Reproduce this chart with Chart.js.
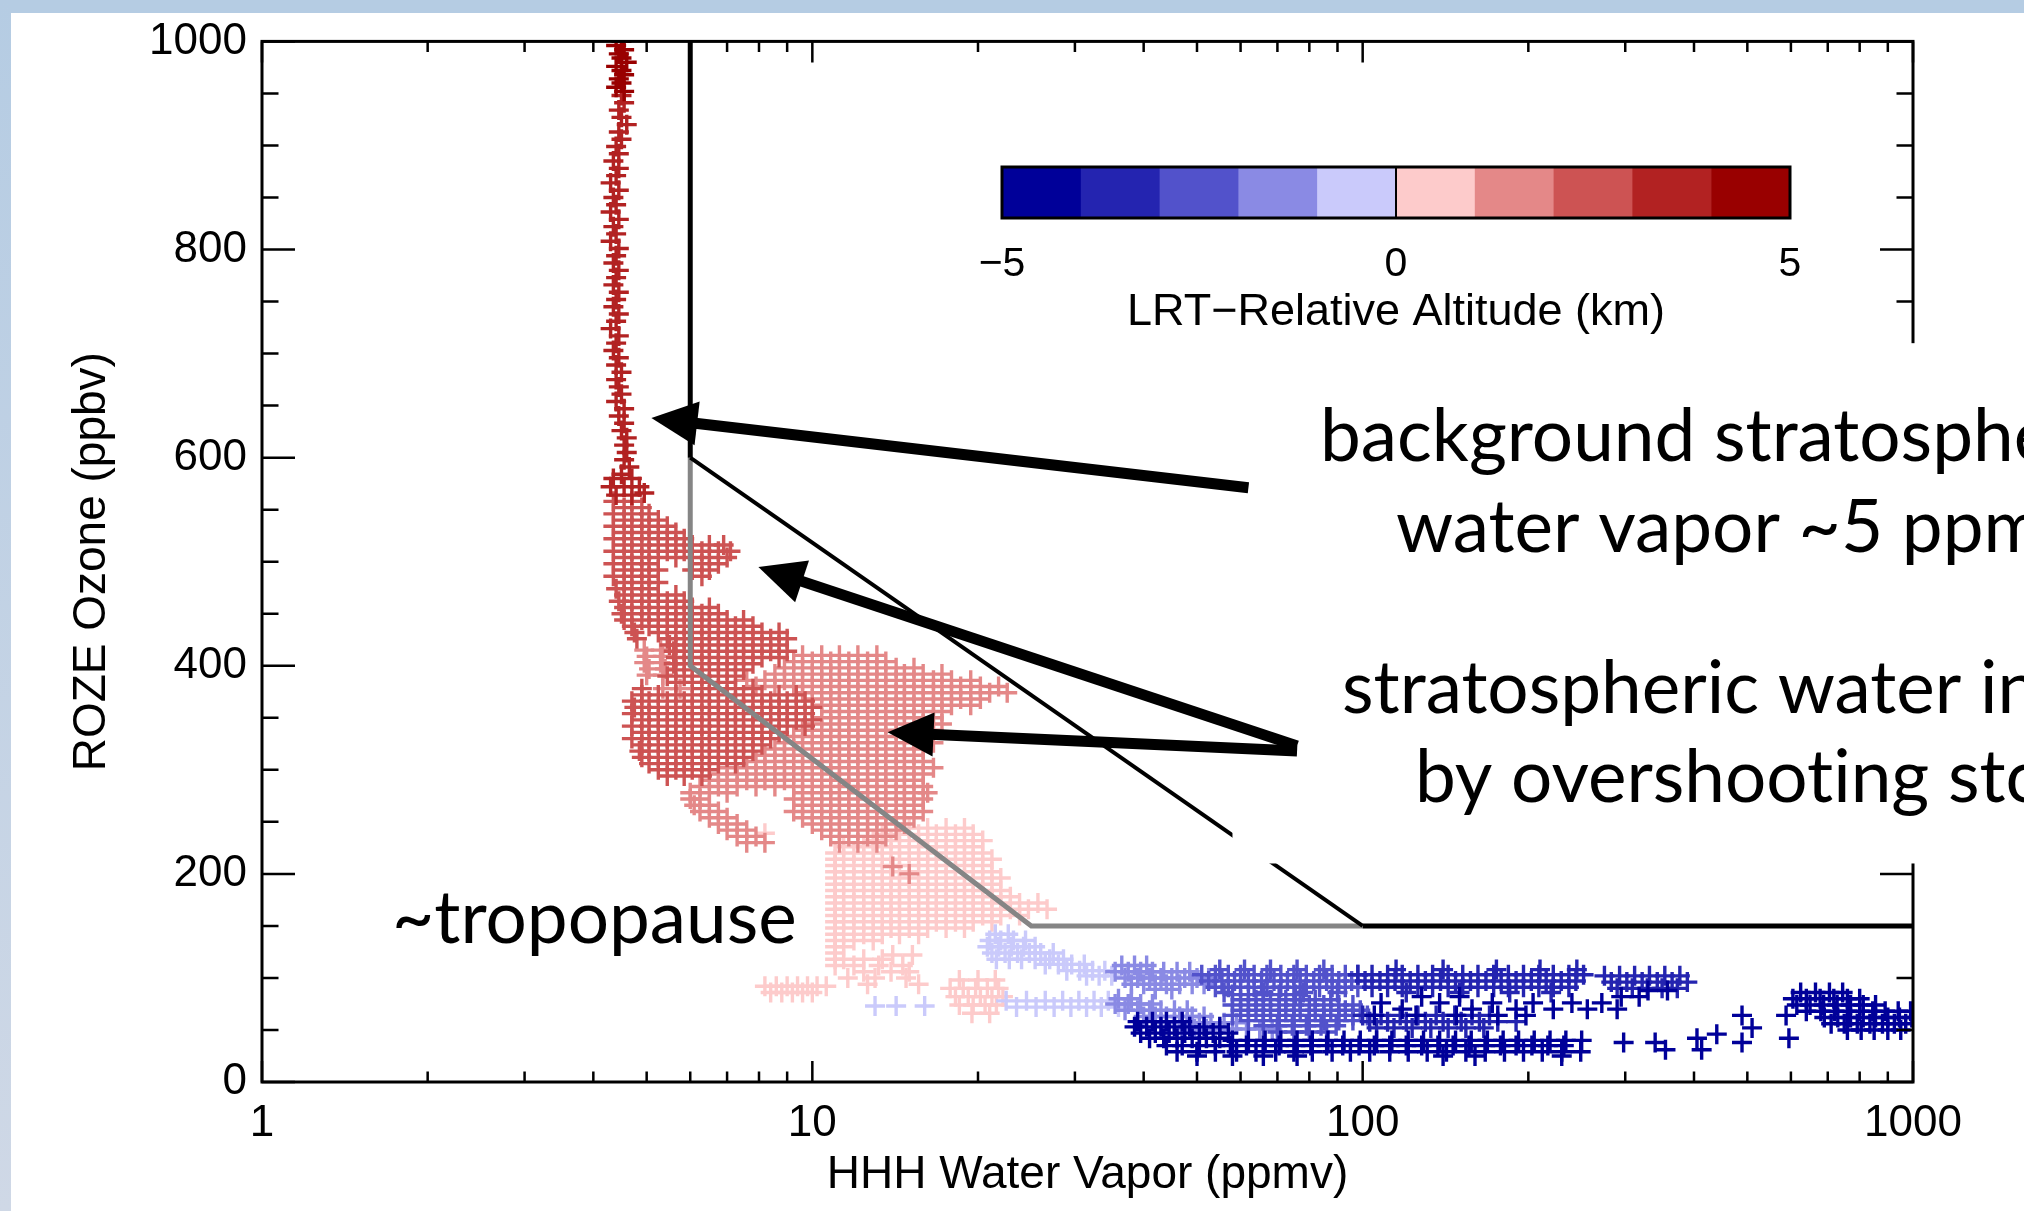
<!DOCTYPE html>
<html>
<head>
<meta charset="utf-8">
<title>Ozone vs Water Vapor</title>
<script src="https://cdn.jsdelivr.net/npm/chart.js@4.4.1/dist/chart.umd.min.js"></script>
<style>
  html, body { margin: 0; padding: 0; background: #fff; }
  body { width: 2024px; height: 1211px; position: relative; overflow: hidden; }
  #topBar { position: absolute; left: 0; top: 0; width: 2024px; height: 13px; background: #b5cce3; }
  #leftBar { position: absolute; left: 0; top: 0; width: 11px; height: 1211px; background: linear-gradient(#b5cce3, #cfd8e6); }
  #graphicFirst { position: absolute; left: 0; top: 0; }
</style>
</head>
<body>
<div id="topBar"></div>
<div id="leftBar"></div>
<canvas id="graphicFirst" width="2024" height="1211"></canvas>
<script>
// Reporte Ozone vs Water Vapor
// Librerias: Chart.js

//-----AXES
const xMajorTicks = [1, 10, 100, 1000];
const xMinorTicks = [2, 3, 4, 5, 6, 7, 8, 9, 20, 30, 40, 50, 60, 70, 80, 90, 200, 300, 400, 500, 600, 700, 800, 900];
const yMajorTicks = [0, 200, 400, 600, 800, 1000];
const yMinorTicks = [50, 100, 150, 250, 300, 350, 450, 500, 550, 650, 700, 750, 850, 900, 950];

//-----COLOR LEVELS (LRT-relative altitude, km)
const levelColors = ['#000099', '#2424b0', '#5252cb', '#8a8ae4', '#cacafb', '#fdcbcb', '#e48888', '#cd5353', '#b22222', '#990000'];
const levelTicks = [-5, 0, 5];

//-----DATA  [x, y] pairs
const points45 = [[4.5,1000],[4.4,996],[4.55,992],[4.45,988],[4.5,984],[4.6,980],[4.4,976],[4.5,972],[4.55,968],[4.45,964],[4.5,960],[4.4,956],[4.55,952]];
const points34 = [[4.5,948],[4.55,941],[4.45,934],[4.5,927],[4.6,920],[4.45,913],[4.5,906],[4.4,899],[4.45,892],[4.35,885],[4.45,878],[4.4,871],[4.3,864],[4.45,857],[4.35,850],[4.4,843],[4.3,836],[4.45,829],[4.35,822],[4.4,815],[4.3,808],[4.45,801],[4.4,794],[4.35,787],[4.45,780],[4.4,773],[4.35,766],[4.45,759],[4.4,752],[4.35,745],[4.45,738],[4.4,731],[4.3,724],[4.45,717],[4.4,710],[4.35,703],[4.45,696],[4.4,689],[4.5,682],[4.4,675],[4.45,668],[4.5,661],[4.4,654],[4.55,647],[4.45,640],[4.55,633],[4.5,626],[4.6,619],[4.55,612],[4.6,605],[4.55,598],[4.65,591],[4.5,584],[4.35,580],[4.7,580],[4.3,572],[4.55,572],[4.85,572],[4.4,564],[4.7,564],[4.95,566]];

// rows: [y, x1, x2, ...]
const rows23 = [
  [558, 4.35, 4.7], [552, 4.55, 4.9], [546, 4.35, 4.7, 5.05], [540, 4.55, 4.9, 5.25],
  [534, 4.35, 4.7, 5.05, 5.45], [528, 4.55, 4.9, 5.25, 5.65], [522, 4.35, 4.7, 5.05, 5.45, 5.85],
  [516, 4.55, 4.9, 5.25, 5.65, 6.05, 6.5, 6.9], [510, 4.35, 4.7, 5.05, 5.45, 5.85, 6.3, 6.75, 7.1],
  [504, 4.55, 4.9, 5.25, 5.65, 6.05, 6.5, 7.0], [498, 4.35, 4.7, 5.05, 6.3, 6.75], [492, 4.55, 4.9, 5.25, 6.05, 6.5],
  [486, 4.35, 4.7, 5.05, 6.3], [480, 4.55, 4.9, 5.25], [474, 4.4, 4.7, 5.05], [468, 4.55, 4.9, 5.25, 5.65],
  [462, 4.45, 4.7, 5.05, 5.45, 5.85], [456, 4.55, 4.9, 5.25, 5.65, 6.05, 6.5], [450, 4.5, 4.7, 5.05, 5.45, 5.85, 6.3, 6.75],
  [444, 4.55, 4.9, 5.25, 5.65, 6.05, 6.5, 7.0, 7.5], [438, 4.7, 5.05, 5.45, 5.85, 6.3, 6.75, 7.25, 7.8],
  [432, 4.75, 5.25, 5.65, 6.05, 6.5, 7.0, 7.5, 8.1, 8.7], [426, 4.8, 5.45, 5.85, 6.3, 6.75, 7.25, 7.8, 8.4, 9.0],
  [420, 5.5, 5.65, 6.05, 6.5, 7.0, 7.5, 8.1, 8.7], [414, 5.6, 5.85, 6.3, 6.75, 7.25, 7.8, 8.4, 9.0],
  [408, 5.65, 6.05, 6.5, 7.0, 7.5, 8.1, 8.7], [402, 5.6, 5.85, 6.3, 6.75, 7.25, 7.8], [396, 5.65, 6.05, 6.5, 7.0, 7.5],
  [390, 5.45, 5.85, 6.3, 6.75, 7.25], [384, 5.65, 6.05, 6.5, 7.0], [378, 4.9, 6.3, 6.75, 7.25, 7.8],
  [372, 4.9, 5.25, 5.65, 6.05, 6.5, 7.0, 7.5, 8.1, 8.7, 9.35], [366, 4.7, 5.05, 5.45, 5.85, 6.3, 6.75, 7.25, 7.8, 8.4, 9.0, 9.7],
  [360, 4.75, 4.9, 5.25, 5.65, 6.05, 6.5, 7.0, 7.5, 8.1, 8.7, 9.35, 10.0], [354, 4.7, 5.05, 5.45, 5.85, 6.3, 6.75, 7.25, 7.8, 8.4, 9.0, 9.7],
  [348, 4.9, 5.25, 5.65, 6.05, 6.5, 7.0, 7.5, 8.1, 8.7, 9.35, 10.0], [342, 4.7, 5.05, 5.45, 5.85, 6.3, 6.75, 7.25, 7.8, 8.4, 9.0, 9.7],
  [336, 4.9, 5.25, 5.65, 6.05, 6.5, 7.0, 7.5, 8.1, 8.7], [330, 4.7, 5.05, 5.45, 5.85, 6.3, 6.75, 7.25, 7.8, 8.4],
  [324, 4.9, 5.25, 5.65, 6.05, 6.5, 7.0, 7.5, 8.1], [318, 4.85, 5.05, 5.45, 5.85, 6.3, 6.75, 7.25, 7.8],
  [312, 4.9, 5.25, 5.65, 6.05, 6.5, 7.0, 7.5], [306, 5.05, 5.45, 5.85, 6.3, 6.75, 7.25], [300, 5.25, 5.65, 6.05, 6.5], [294, 5.45, 5.85, 6.3]
];
const rows12 = [
  [415, 4.95, 5.3], [409, 5.0, 5.35], [403, 4.95, 5.3], [397, 5.05, 5.4], [391, 5.0, 5.35], [378, 5.35, 5.75],
  [410, 9.6, 10.4, 11.2, 12.1, 13.1], [404, 9.25, 10.0, 10.8, 11.65, 12.6, 13.6],
  [398, 8.9, 9.6, 10.4, 11.2, 12.1, 13.1, 14.2, 15.3], [392, 8.55, 9.25, 10.0, 10.8, 11.65, 12.6, 13.6, 14.7, 15.9, 17.2],
  [386, 7.6, 8.2, 8.9, 9.6, 10.4, 11.2, 12.1, 13.1, 14.2, 15.3, 16.6, 17.9, 19.4],
  [380, 7.9, 8.55, 9.25, 10.0, 10.8, 11.65, 12.6, 13.6, 14.7, 15.9, 17.2, 18.6, 20.2, 21.8],
  [374, 9.6, 10.4, 11.2, 12.1, 13.1, 14.2, 15.3, 16.6, 17.9, 19.4, 21.0, 22.6],
  [368, 10.0, 10.8, 11.65, 12.6, 13.6, 14.7, 15.9, 17.2, 18.6, 20.2], [362, 10.4, 11.2, 12.1, 13.1, 14.2, 15.3, 16.6, 17.9, 19.4],
  [356, 10.8, 11.65, 12.6, 13.6, 14.7, 15.9, 17.2], [350, 10.4, 11.2, 12.1, 13.1, 14.2, 15.3, 16.6],
  [344, 10.0, 10.8, 11.65, 12.6, 13.6, 14.7, 15.9, 17.2], [338, 9.6, 10.4, 11.2, 12.1, 13.1, 14.2, 15.3, 16.6],
  [332, 9.25, 10.0, 10.8, 11.65, 12.6, 13.6, 14.7, 15.9], [326, 8.9, 9.6, 10.4, 11.2, 12.1, 13.1, 14.2, 15.3, 16.6],
  [320, 8.55, 9.25, 10.0, 10.8, 11.65, 12.6, 13.6, 14.7, 15.9], [314, 8.2, 8.9, 9.6, 10.4, 11.2, 12.1, 13.1, 14.2, 15.3],
  [308, 7.9, 8.55, 9.25, 10.0, 10.8, 11.65, 12.6, 13.6, 14.7, 15.9],
  [302, 7.0, 7.6, 8.2, 8.9, 9.6, 10.4, 11.2, 12.1, 13.1, 14.2, 15.3, 16.6],
  [296, 6.75, 7.3, 7.9, 8.55, 9.25, 10.0, 10.8, 11.65, 12.6, 13.6, 14.7, 15.9],
  [290, 6.5, 7.0, 7.6, 8.2, 8.9, 9.6, 10.4, 11.2, 12.1, 13.1, 14.2, 15.3],
  [284, 6.25, 6.75, 7.3, 7.9, 8.55, 9.25, 10.0, 10.8, 11.65, 12.6, 13.6, 14.7, 15.9],
  [278, 6.0, 6.5, 7.0, 9.6, 10.4, 11.2, 12.1, 13.1, 14.2, 15.3, 16.2],
  [272, 6.0, 6.25, 9.25, 10.0, 10.8, 11.65, 12.6, 13.6, 14.7, 15.9], [266, 6.1, 6.5, 9.6, 10.4, 11.2, 12.1, 13.1, 14.2, 15.3],
  [260, 6.25, 6.75, 9.25, 10.0, 10.8, 11.65, 12.6, 13.6, 14.7, 15.9], [254, 6.5, 7.0, 9.6, 10.4, 11.2, 12.1, 13.1, 14.2, 15.3],
  [248, 6.75, 7.3, 10.0, 10.8, 11.65, 12.6, 13.6, 14.7], [242, 7.0, 7.6, 10.4, 11.2, 12.1, 13.1, 14.2],
  [236, 7.3, 7.9, 10.8, 11.65, 12.6, 13.6], [230, 7.6, 8.2, 11.2, 12.1, 13.1], [207, 14.0], [200, 15.0]
];
const rows01 = [
  [244, 15.0, 16.2, 17.5, 18.9], [238, 13.4, 14.4, 15.6, 16.8, 18.2, 19.6], [239, 8.2],
  [232, 12.9, 13.9, 15.0, 16.2, 17.5, 18.9, 20.4], [226, 11.4, 12.4, 13.4, 14.4, 15.6, 16.8, 18.2, 19.6],
  [220, 11.0, 11.9, 12.9, 13.9, 15.0, 16.2, 17.5, 18.9, 20.4], [214, 11.0, 11.4, 12.4, 13.4, 14.4, 15.6, 16.8, 18.2, 19.6, 21.2],
  [208, 11.0, 11.9, 12.9, 13.9, 15.0, 16.2, 17.5, 18.9, 20.4], [202, 11.0, 11.4, 12.4, 13.4, 14.4, 15.6, 16.8, 18.2, 19.6, 21.2],
  [196, 11.0, 11.9, 12.9, 13.9, 15.0, 16.2, 17.5, 18.9, 20.4, 22.0], [190, 11.0, 11.4, 12.4, 13.4, 14.4, 15.6, 16.8, 18.2, 19.6, 21.2],
  [184, 11.0, 11.9, 12.9, 13.9, 15.0, 16.2, 17.5, 18.9, 20.4, 22.0],
  [178, 11.0, 11.4, 12.4, 13.4, 14.4, 15.6, 16.8, 18.2, 19.6, 21.2, 22.9],
  [172, 11.0, 11.9, 12.9, 13.9, 15.0, 16.2, 17.5, 18.9, 20.4, 22.0, 23.8, 25.7],
  [166, 11.0, 11.4, 12.4, 13.4, 14.4, 15.6, 16.8, 18.2, 19.6, 21.2, 22.9, 24.7, 26.7],
  [160, 11.0, 11.9, 12.9, 13.9, 15.0, 16.2, 17.5, 18.9, 20.4, 22.0, 23.8],
  [154, 11.0, 11.4, 12.4, 13.4, 14.4, 15.6, 16.8, 18.2, 19.6, 21.2], [148, 11.0, 11.9, 12.9, 13.9, 15.0, 16.2, 17.5, 18.9],
  [142, 11.0, 11.4, 12.4, 13.4, 14.4, 15.6], [136, 11.0, 11.9, 12.9], [130, 11.0, 11.4], [124, 11.0], [118, 11.0, 11.4, 12.4, 13.4],
  [112, 11.0, 11.9, 13.2, 14.6], [122, 14.0, 15.2], [106, 12.4, 13.9, 15.0], [100, 11.6, 13.0, 14.8], [94, 12.6, 15.6],
  [92, 8.2, 8.6, 9.0, 9.4, 9.8, 10.2, 10.6], [86, 8.4, 8.8, 9.2, 9.6, 10.0],
  [98, 18.5, 20.0, 21.5], [90, 17.8, 18.8, 19.8, 20.8, 21.8], [82, 18.2, 19.2, 20.2, 21.2, 22.2], [74, 18.5, 19.6, 20.6, 21.6], [66, 19.5, 21.0]
];
const rowsM10 = [
  [142, 21.5, 22.7], [136, 21.0, 22.0, 23.2, 24.4], [130, 20.8, 21.8, 23.0, 24.2, 25.4], [124, 21.2, 22.4, 23.6, 24.8, 26.0, 27.4],
  [118, 21.6, 22.8, 24.0, 25.4, 27.0, 28.6], [113, 26.5, 28.0, 29.6, 31.2], [107, 29.0, 30.6, 32.3, 34.0], [102, 31.5, 33.2, 35.0],
  [73, 13.0, 14.2, 16.0], [78, 22.5, 24.5, 26.5, 28.5, 30.5, 32.5, 34.5], [72, 23.5, 25.5, 27.5, 29.5, 31.5, 33.5, 36.0]
];
const rowsM21 = [
  [112, 36.5, 38.5, 40.5], [106, 35.5, 37.5, 39.5, 41.5, 43.5, 46, 48.5], [100, 37, 39, 41, 43, 45, 47.5, 50, 52.5],
  [94, 38, 40, 42, 44, 46.5, 49, 51.5], [89, 42, 45],
  [80, 36, 38], [75, 35.5, 37.5, 39.5, 41.5], [69, 37, 39, 41, 43, 45.5, 48], [63, 40, 42, 44, 46.5, 49, 51.5],
  [57, 43, 45.5, 48, 50.5, 53, 56, 59], [51, 47, 49.5, 52, 55, 58, 61.5, 65, 68.5]
];
const rowsM32 = [
  [108, 55, 61, 68, 76, 85], [103, 51, 54, 57, 60, 63.5, 67, 71, 75, 79, 83.5, 88, 93, 98],
  [97, 52.5, 55.5, 58.5, 62, 65.5, 69, 73, 77, 81.5, 86, 90.5, 95.5], [91, 54, 57, 60, 63.5, 67, 71, 75, 79, 83.5, 88, 93, 98],
  [86, 56, 66, 78, 90],
  [84, 58, 62, 66, 70.5, 75.5], [79, 60, 64, 68, 72.5, 77, 82, 87.5], [74, 58, 62, 66, 70.5, 75, 80, 85, 90.5, 96],
  [69, 60, 64, 68, 72.5, 77, 82, 87.5, 93, 99], [64, 58, 62, 66, 70.5, 75, 80, 85, 90.5, 96, 102],
  [59, 62, 66, 70.5, 75, 80, 85, 90.5, 96], [54, 66, 70, 74.5, 79, 84, 89.5], [48, 70, 75, 80, 86]
];
const rowsM43 = [
  [108, 115, 140, 175, 210, 245],
  [103, 98, 104, 111, 118, 126, 134, 143, 152, 162, 173, 184, 196, 209, 222, 237, 252],
  [97, 101, 107.5, 114.5, 122, 130, 138.5, 147.5, 157, 167.5, 178.5, 190, 202.5, 215.5, 229.5, 244],
  [91, 104, 111, 118, 126, 134, 143, 152, 162, 173, 184, 196, 209, 222, 237], [86, 120, 150, 185, 220],
  [102, 275, 293, 312, 332, 354, 377], [96, 283, 302, 322, 343, 365, 389], [90, 290, 309, 329, 350, 373],
  [64, 100, 108, 117, 126, 136, 147, 158, 170], [58, 103, 111, 120, 130, 140, 151, 163, 176, 190], [52, 106, 114, 123, 133, 143, 154, 166]
];
const rowsM54 = [
  [58, 39, 41.5, 44, 47], [53, 38.5, 40.5, 43, 45.5, 48.5, 51.5, 55], [47, 39.5, 42, 44.5, 47.5, 50.5, 53.5, 57], [42, 41, 43.5, 46, 49, 52, 55],
  [40, 58, 62, 66.5, 71, 76, 81, 86.5, 92.5, 99, 106, 113, 121, 129, 138, 147.5, 157.5, 168.5, 180, 192, 205, 219, 234, 250],
  [35, 44, 47, 50.5, 54, 57.5, 61.5, 66, 70.5, 75.5, 80.5, 86, 92, 98.5, 105, 112, 120, 128, 137, 146, 156, 167, 178, 190, 203, 217, 232],
  [29, 46, 50, 54, 59, 64, 69.5, 75, 81, 88, 95, 103, 112, 121, 131, 142, 154, 167, 181, 196, 212, 230, 249],
  [25, 50, 58, 66, 76, 140, 160, 230],
  [82, 128, 150, 295, 318], [76, 108, 138, 172, 204, 240, 272], [70, 118, 158, 190, 222, 256, 290], [64, 105, 125, 148, 176, 198], [88, 330, 358],
  [64, 489, 588], [52, 510], [42, 405, 595], [38, 298, 340, 489], [31, 413, 355], [46, 440],
  [86, 625, 665, 705, 745], [80, 605, 640, 678, 718, 760, 800], [74, 615, 650, 688, 728, 770, 812, 855],
  [68, 640, 680, 720, 760, 800, 845, 890, 940, 990], [62, 690, 730, 770, 812, 855, 900, 945, 995],
  [56, 710, 750, 792, 835, 880, 925, 970], [50, 760, 805, 850, 900, 950]
];

//-----REFERENCE LINES
const blackUpper = [[6, 1000], [6, 600]];
const blackSlope = [[6, 600], [100, 150]];
const blackFloor = [[100, 150], [1000, 150]];
const grayPath = [[6, 600], [6, 400], [25, 150], [100, 150]];

//-----NOTES (arrows in data units)
const arrowBackground = {from: [62, 571], to: [5.1, 638]};
const arrowInjected = [{from: [76, 323], to: [7.98, 495]}, {from: [76, 318], to: [13.7, 336]}];
const noteMask = {x: 58, yTop: 710, yBottom: 210};
const noteLines = [
  {text: 'background stratospheric', left: 1320, base: 461},
  {text: 'water vapor ~5 ppmv', left: 1396, base: 552},
  {text: 'stratospheric water injected', left: 1342, base: 713},
  {text: 'by overshooting storms', left: 1415, base: 802},
  {text: '~tropopause', left: 392, base: 943}
];
const colorBar = {left: 1002, right: 1790, top: 167, bottom: 218};

const axisFont = "'Liberation Sans', Arial, Helvetica, sans-serif";
const noteFont = "Lato, 'Open Sans', sans-serif";

function rowsToPoints(rows){
  return rows.flatMap(r => r.slice(1).map(x => ({x: x, y: r[0]})));
}
function pairsToPoints(pairs){
  return pairs.map(p => ({x: p[0], y: p[1]}));
}

function scatterSet(points, color, order){
  return {
    data: points,
    showLine: false,
    pointStyle: 'cross',
    pointRadius: 10,
    pointBorderWidth: 3.4,
    pointBorderColor: color,
    pointBackgroundColor: color,
    order: order
  };
}
function lineSet(pairs, color, width){
  return {
    data: pairsToPoints(pairs),
    showLine: true,
    borderColor: color,
    borderWidth: width,
    pointRadius: 0,
    borderCapStyle: 'butt',
    borderJoinStyle: 'miter',
    order: 0
  };
}

const dataChart1 = [
  lineSet(blackUpper, '#000', 5),
  lineSet(blackSlope, '#000', 4),
  lineSet(blackFloor, '#000', 5),
  lineSet(grayPath, '#858585', 5),
  scatterSet(rowsToPoints(rowsM54), levelColors[0], 1),
  scatterSet(rowsToPoints(rowsM43), levelColors[1], 2),
  scatterSet(rowsToPoints(rowsM32), levelColors[2], 3),
  scatterSet(rowsToPoints(rowsM21), levelColors[3], 4),
  scatterSet(rowsToPoints(rowsM10), levelColors[4], 5),
  scatterSet(pairsToPoints(points45), levelColors[9], 6),
  scatterSet(pairsToPoints(points34), levelColors[8], 7),
  scatterSet(rowsToPoints(rows23), levelColors[7], 8),
  scatterSet(rowsToPoints(rows12), levelColors[6], 9),
  scatterSet(rowsToPoints(rows01), levelColors[5], 10)
];

function isDecade(v){
  const l = Math.log10(v);
  return Math.abs(l - Math.round(l)) < 1e-9;
}

const setOptions1 = {
  responsive: false,
  animation: false,
  events: [],
  layout: {padding: {left: 0, top: 41, right: 111, bottom: 0}},
  plugins: {legend: {display: false}, tooltip: {enabled: false}},
  scales: {
    x: {
      type: 'logarithmic',
      position: 'bottom',
      min: 1,
      max: 1000,
      grid: {display: false, drawTicks: false},
      border: {display: false},
      ticks: {
        autoSkip: false, maxRotation: 0, padding: 15, color: '#000',
        font: {family: axisFont, size: 44},
        callback: v => (isDecade(v) && xMajorTicks.includes(Math.round(v))) ? String(Math.round(v)) : ''
      },
      title: {display: true, text: 'HHH Water Vapor (ppmv)', color: '#000', font: {family: axisFont, size: 46}, padding: {top: 0, bottom: 8}},
      afterFit: s => { s.height = 129; }
    },
    y: {
      type: 'linear',
      min: 0,
      max: 1000,
      grid: {display: false, drawTicks: false},
      border: {display: false},
      ticks: {stepSize: 200, padding: 15, color: '#000', font: {family: axisFont, size: 44}, callback: v => String(v)},
      title: {display: true, text: 'ROZE Ozone (ppbv)', color: '#000', font: {family: axisFont, size: 46}, padding: {top: 65, bottom: 0}},
      afterFit: s => { s.width = 262; }
    }
  }
};

//-----ARROWS
function drawArrowHead(ctx, x0, y0, x1, y1, len, half){
  const ang = Math.atan2(y1 - y0, x1 - x0);
  const bx = x1 - Math.cos(ang) * len, by = y1 - Math.sin(ang) * len;
  ctx.beginPath();
  ctx.moveTo(x1, y1);
  ctx.lineTo(bx + Math.sin(ang) * half, by - Math.cos(ang) * half);
  ctx.lineTo(bx - Math.sin(ang) * half, by + Math.cos(ang) * half);
  ctx.closePath();
  ctx.fill();
  return [bx + Math.cos(ang) * 4, by + Math.sin(ang) * 4];
}
function drawArrow(ctx, sx, sy, note){
  const x0 = sx.getPixelForValue(note.from[0]), y0 = sy.getPixelForValue(note.from[1]);
  const x1 = sx.getPixelForValue(note.to[0]), y1 = sy.getPixelForValue(note.to[1]);
  const base = drawArrowHead(ctx, x0, y0, x1, y1, 46, 22);
  ctx.lineWidth = 11;
  ctx.lineCap = 'butt';
  ctx.beginPath();
  ctx.moveTo(x0, y0);
  ctx.lineTo(base[0], base[1]);
  ctx.stroke();
}

const framePlugin = {
  id: 'framePlugin',
  afterDatasetsDraw(chart){
    const {ctx, chartArea: area, scales} = chart;
    const sx = scales.x, sy = scales.y;
    ctx.save();

    //---FRAME
    ctx.strokeStyle = '#000';
    ctx.lineWidth = 3;
    ctx.strokeRect(area.left, area.top, area.right - area.left, area.bottom - area.top);

    //---TICKS (inward, IDL style)
    ctx.lineWidth = 2.5;
    ctx.beginPath();
    const addX = (v, len) => {
      const px = sx.getPixelForValue(v);
      ctx.moveTo(px, area.bottom); ctx.lineTo(px, area.bottom - len);
      ctx.moveTo(px, area.top); ctx.lineTo(px, area.top + len);
    };
    const addY = (v, len) => {
      const py = sy.getPixelForValue(v);
      ctx.moveTo(area.left, py); ctx.lineTo(area.left + len, py);
      ctx.moveTo(area.right, py); ctx.lineTo(area.right - len, py);
    };
    xMajorTicks.forEach(v => addX(v, 21));
    xMinorTicks.forEach(v => addX(v, 10.5));
    yMajorTicks.forEach(v => addY(v, 33));
    yMinorTicks.forEach(v => addY(v, 16.5));
    ctx.stroke();

    //---MASK behind the notes
    const mx = sx.getPixelForValue(noteMask.x);
    const my0 = sy.getPixelForValue(noteMask.yTop), my1 = sy.getPixelForValue(noteMask.yBottom);
    ctx.fillStyle = '#fff';
    ctx.fillRect(mx, my0, chart.width - mx, my1 - my0);

    //---COLORBAR
    const cb = colorBar;
    const step = (cb.right - cb.left) / levelColors.length;
    levelColors.forEach((c, i) => {
      ctx.fillStyle = c;
      ctx.fillRect(cb.left + i * step, cb.top, step + 0.6, cb.bottom - cb.top);
    });
    ctx.strokeStyle = '#000';
    ctx.lineWidth = 3;
    ctx.strokeRect(cb.left, cb.top, cb.right - cb.left, cb.bottom - cb.top);
    ctx.lineWidth = 2;
    ctx.beginPath();
    ctx.moveTo((cb.left + cb.right) / 2, cb.top);
    ctx.lineTo((cb.left + cb.right) / 2, cb.bottom);
    ctx.stroke();
    ctx.fillStyle = '#000';
    ctx.textAlign = 'center';
    ctx.textBaseline = 'alphabetic';
    ctx.font = '41px ' + axisFont;
    levelTicks.forEach(t => {
      const px = cb.left + (t + 5) / 10 * (cb.right - cb.left);
      ctx.fillText(t < 0 ? '\u2212' + Math.abs(t) : String(t), px, 276);
    });
    ctx.font = '45px ' + axisFont;
    ctx.fillText('LRT\u2212Relative Altitude (km)', (cb.left + cb.right) / 2, 325);

    //---ARROWS
    ctx.fillStyle = '#000';
    ctx.strokeStyle = '#000';
    drawArrow(ctx, sx, sy, arrowBackground);
    arrowInjected.forEach(a => drawArrow(ctx, sx, sy, a));

    //---TEXT
    ctx.textRendering = 'optimizeSpeed';
    ctx.font = '100px ' + noteFont;
    const size = 100 * 405 / ctx.measureText('~tropopause').width;
    ctx.font = size.toFixed(1) + 'px ' + noteFont;
    ctx.textAlign = 'left';
    noteLines.forEach(n => ctx.fillText(n.text, n.left, n.base));

    ctx.restore();
  }
};

//-----GRAPICH
let chart1;
function drawFirstElement(datasets, dataconfig){
  var ctx = document.getElementById('graphicFirst').getContext('2d');
  if (chart1) {
    chart1.destroy();
  }
  chart1 = new Chart(ctx, {
    type: 'scatter',
    data: {datasets: datasets},
    plugins: [framePlugin],
    options: dataconfig
  });
}

drawFirstElement(dataChart1, setOptions1);
</script>
</body>
</html>
